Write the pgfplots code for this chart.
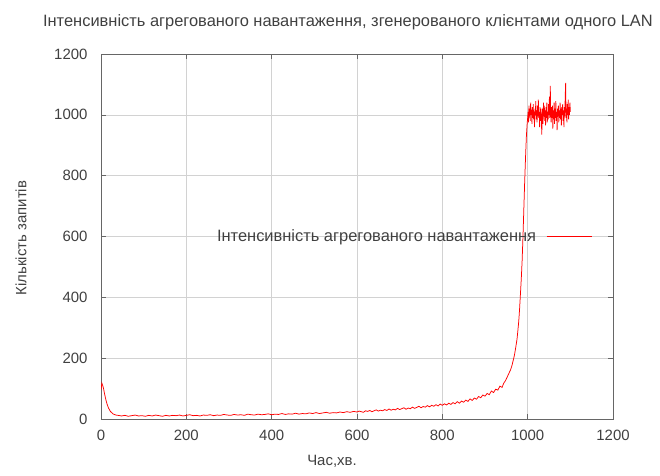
\documentclass[border=0pt]{standalone}
\usepackage{fontspec}
\setmainfont{Liberation Sans}
\usepackage{pgfplots}
\pgfplotsset{compat=1.18}
\begin{document}
\begin{tikzpicture}
\useasboundingbox (0,0) rectangle (660bp,-476bp);
\begin{axis}[
 at={(101bp,-419bp)}, anchor=south west,
 scale only axis, width=512bp, height=365bp,
 xmin=0,xmax=1200,ymin=0,ymax=1200,
 xtick={0,200,...,1200}, ytick={0,200,...,1200},
 grid=major, major grid style={gray!35, thin},
 tick align=inside, major tick length=5bp,
 axis line style={black!60, line width=0.8bp},
 every tick/.style={black!60},
 tick label style={font=\fontsize{15}{17}\selectfont, text=black!75},
 /pgf/number format/assume math mode=true,
 scaled ticks=false, /pgf/number format/1000 sep={},
 yticklabel style={xshift=-10bp},
 xticklabel style={yshift=-8bp},
 legend style={at={(0.965,0.5)}, anchor=east, draw=none, fill=none,
   font=\fontsize{16.5}{18}\selectfont, text=black!75, column sep=8bp},
 legend cell align=right,
 legend plot pos=right,
 legend image code/.code={\draw[#1] (0bp,0bp) -- (45bp,0bp);},
]
\addplot[red, line width=0.75bp] coordinates {
(0,95) (2,118) (4,110) (6,100) (8,85) (10,72) (12,60) (14,50) (16,42) (18,35) (20,30) (22,25) (25,21) (28,17) (31,15) (35,13)
(40,12) (48,10) (56,12) (64,9) (72,11) (80,13) (88,10) (96,11) (104,9) (112,12) (120,10) (128,13) (136,11) (144,9) (152,12) (160,10) (168,12) (176,11) (184,13) (192,10) (200,12) (208,14) (216,11) (224,12) (232,10) (240,13) (248,12) (256,14) (264,11) (272,13) (280,12) (288,15) (296,13) (304,12) (312,15) (320,13) (328,14) (336,12) (344,16) (352,14) (360,13) (368,16) (376,14) (384,15) (392,17) (400,14) (408,16) (416,15) (424,18) (432,15) (440,17) (448,16) (456,19) (464,16) (472,18) (480,17) (488,20) (496,18) (504,21) (512,18) (520,20) (528,22) (536,19) (544,21) (552,20) (560,23) (568,21) (576,24) (584,22) (592,25) (600,23)
(605,26) (610,24) (615,22) (620,27) (625,25) (630,28) (635,24) (640,27) (645,30) (650,26) (655,29) (660,27) (665,31) (670,28) (675,33) (680,29) (685,32) (690,30) (695,35) (700,31) (705,34) (710,37) (715,32) (720,36) (725,34) (730,39) (735,35) (740,38) (745,42) (750,37) (755,41) (760,39) (765,44) (770,40) (775,45) (780,42) (785,47) (790,43) (795,49) (800,45) (805,50) (810,46) (815,52) (820,48) (825,54) (830,50) (835,57) (840,52) (845,59) (850,55) (855,62) (860,58) (865,66) (870,61) (875,69) (880,65) (885,74) (890,70) (895,79) (900,75) (905,84) (910,80) (915,92) (920,87) (925,98) (930,95) (935,108) (940,104) (944,118) (948,126) (952,138) (956,150) (960,162) (963,175) (966,192) (969,210) (972,235) (975,262) (977,290) (979,320) (981,360) (983,410) (985,460) (987,520) (989,600) (991,690) (993,780) (995,860) (997,930) (999,975)
(1000,990) (1001,1010) (1002,975) (1003,1030) (1004,995) (1005,1020) (1006,980) (1007,1040) (1008,1000) (1009,1015) (1010,970) (1011,1025) (1012,990) (1013,1035) (1014,985) (1015,1010) (1016,960) (1017,1020) (1018,1000) (1019,1045) (1020,985) (1021,1015) (1022,975) (1023,1030) (1024,995) (1025,1050) (1026,990) (1027,1010) (1028,960) (1029,1025) (1030,980) (1031,1020) (1032,1000) (1033,935) (1034,990) (1035,1020) (1036,970) (1037,1040) (1038,995) (1039,1030) (1040,980) (1041,1015) (1042,965) (1043,1025) (1044,990) (1045,1040) (1046,975) (1047,1010) (1048,985) (1049,1035) (1050,1000) (1051,1060) (1052,990) (1053,1095) (1054,1005) (1055,975) (1056,1025) (1057,990) (1058,1030) (1059,955) (1060,1015) (1061,985) (1062,1040) (1063,970) (1064,1020) (1065,990) (1066,1045) (1067,980) (1068,1010) (1069,950) (1070,1020) (1071,995) (1072,1030) (1073,975) (1074,1015) (1075,990) (1076,1040) (1077,985) (1078,1020) (1079,965) (1080,1025) (1081,1000) (1082,1035) (1083,980) (1084,1015) (1085,960) (1086,1025) (1087,995) (1088,1060) (1089,1105) (1090,990) (1091,1020) (1092,975) (1093,1035) (1094,1000) (1095,1050) (1096,985) (1097,1025) (1098,1000) (1099,1040) (1100,1010)
};
\addlegendentry{Інтенсивність агрегованого навантаження}
\end{axis}
\node[text=black!75, font=\fontsize{16.5}{18}\selectfont] at (348bp,-22bp) {Інтенсивність агрегованого навантаження, згенерованого клієнтами одного LAN};
\node[text=black!75, font=\fontsize{15}{17}\selectfont, rotate=90] at (21bp,-238bp) {Кількість запитів};
\node[text=black!75, font=\fontsize{15}{17}\selectfont] at (332bp,-461bp) {Час,хв.};
\end{tikzpicture}
\end{document}
